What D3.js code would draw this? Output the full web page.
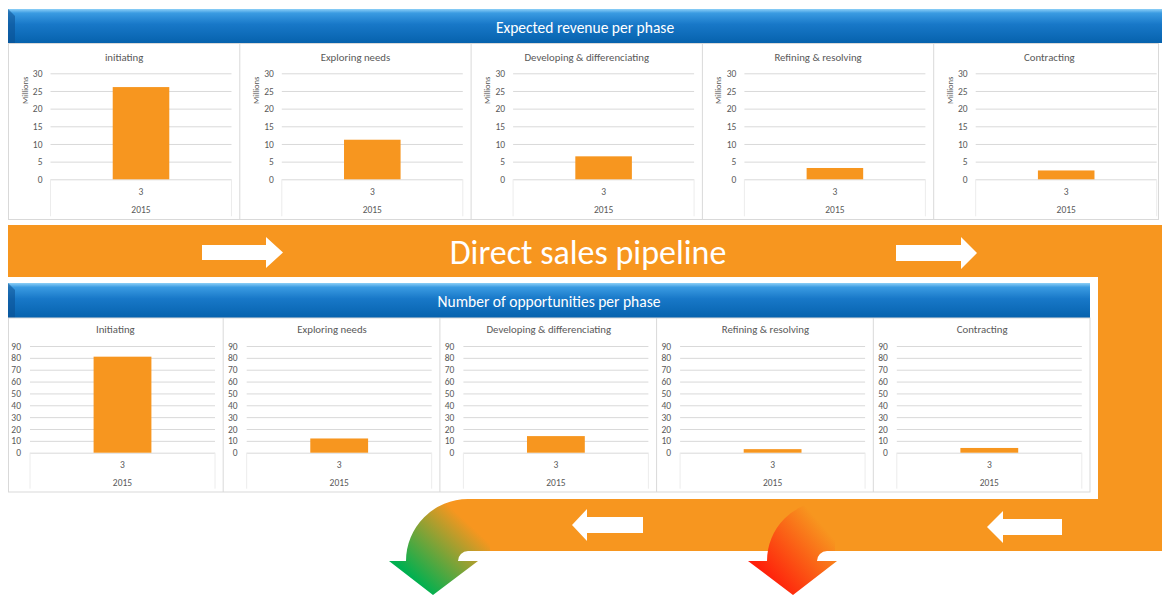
<!DOCTYPE html>
<html>
<head>
<meta charset="utf-8">
<script src="https://cdn.jsdelivr.net/npm/d3@7"></script>
<style>
  body { margin: 0; background: #fff; }
  svg { display: block; font-family: Carlito, Lato, "Open Sans", sans-serif; }
</style>
</head>
<body>
<div id="chart"></div>
<script>
// ---- data ----
const revenueTitles = ["initiating", "Exploring needs", "Developing & differenciating", "Refining & resolving", "Contracting"];
const oppTitles = ["Initiating", "Exploring needs", "Developing & differenciating", "Refining & resolving", "Contracting"];
const revenueValues = [26.1, 11.2, 6.5, 3.2, 2.5];   // millions
const oppValues = [81, 12, 14, 3, 4];
const revenueTicks = [0, 5, 10, 15, 20, 25, 30];
const oppTicks = [0, 10, 20, 30, 40, 50, 60, 70, 80, 90];
const categories = ["3"];
const yearLabel = "2015";

const W = 1162, H = 597;
const orange = "#f7961f";
const gridColor = "#d9d9d9";
const textColor = "#595959";

const svg = d3.select("#chart").append("svg")
  .attr("width", W)
  .attr("height", H);

const defs = svg.append("defs");

// blue header gradient
const blue = defs.append("linearGradient").attr("id", "blueGrad")
  .attr("x1", 0).attr("y1", 0).attr("x2", 0).attr("y2", 1);
blue.append("stop").attr("offset", "0%").attr("stop-color", "#8ccff7");
blue.append("stop").attr("offset", "12%").attr("stop-color", "#3a9be2");
blue.append("stop").attr("offset", "45%").attr("stop-color", "#1878c8");
blue.append("stop").attr("offset", "100%").attr("stop-color", "#0662ad");

// green u-turn gradient
const green = defs.append("linearGradient").attr("id", "greenGrad")
  .attr("gradientUnits", "userSpaceOnUse")
  .attr("x1", 492).attr("y1", 508).attr("x2", 420).attr("y2", 585);
green.append("stop").attr("offset", "0%").attr("stop-color", orange);
green.append("stop").attr("offset", "26%").attr("stop-color", orange);
green.append("stop").attr("offset", "100%").attr("stop-color", "#00b050");

// red u-turn gradient
const red = defs.append("linearGradient").attr("id", "redGrad")
  .attr("gradientUnits", "userSpaceOnUse")
  .attr("x1", 835).attr("y1", 540).attr("x2", 775).attr("y2", 592);
red.append("stop").attr("offset", "0%").attr("stop-color", orange);
red.append("stop").attr("offset", "100%").attr("stop-color", "#ff1a0a");

// ---- orange pipeline band ----
svg.append("rect").attr("x", 8).attr("y", 225).attr("width", W - 8).attr("height", 52).attr("fill", orange);
svg.append("rect").attr("x", 1098).attr("y", 225).attr("width", W - 1098).attr("height", 326).attr("fill", orange);
svg.append("rect").attr("x", 468).attr("y", 499).attr("width", W - 468).attr("height", 52).attr("fill", orange);

// left u-turn (green) arrow
svg.append("path")
  .attr("d", "M490,499 L468,499 A62,62 0 0 0 406,561 L389,561 L433,595 L478,561 L458,561 A10,10 0 0 1 468,551 L490,551 Z")
  .attr("fill", "url(#greenGrad)");

// right u-turn (red) arrow
svg.append("path")
  .attr("d", "M835,501 L827,501 A60,60 0 0 0 767,561 L748,561 L793,595 L837,561 L817,561 A10,10 0 0 1 827,551 L835,551 Z")
  .attr("fill", "url(#redGrad)");

svg.append("text")
  .attr("x", 588).attr("y", 252)
  .attr("text-anchor", "middle").attr("dominant-baseline", "central")
  .attr("fill", "#fff").attr("font-size", 34).attr("font-weight", 300)
  .text("Direct sales pipeline");

// white block arrows
function blockArrow(tail, base, tip, cy, shaftH, headH) {
  const s = shaftH / 2, h = headH / 2;
  return `M${tail},${cy - s} L${base},${cy - s} L${base},${cy - h} L${tip},${cy} L${base},${cy + h} L${base},${cy + s} L${tail},${cy + s} Z`;
}
svg.append("path").attr("d", blockArrow(202, 266, 283, 252.5, 15, 31)).attr("fill", "#fff");
svg.append("path").attr("d", blockArrow(896, 961, 977, 253, 16, 32)).attr("fill", "#fff");
svg.append("path").attr("d", blockArrow(643, 587, 572, 525, 16, 32)).attr("fill", "#fff");
svg.append("path").attr("d", blockArrow(1062, 1003, 987, 527, 16, 32)).attr("fill", "#fff");

// white block holding the lower charts
svg.append("rect").attr("x", 8).attr("y", 277).attr("width", 1090).attr("height", 222).attr("fill", "#fff");

// ---- headers ----
function header(x, y, w, h, label) {
  const g = svg.append("g");
  g.append("rect").attr("x", x).attr("y", y).attr("width", w).attr("height", h).attr("fill", "url(#blueGrad)");
  g.append("path")
    .attr("d", `M${x},${y} L${x + 7},${y + 7} L${x + 7},${y + h} L${x},${y + h} Z`)
    .attr("fill", "#0b4f90").attr("opacity", 0.55);
  g.append("text")
    .attr("x", x + w / 2).attr("y", y + h / 2 + 1)
    .attr("text-anchor", "middle").attr("dominant-baseline", "central")
    .attr("fill", "#fff").attr("font-size", 15.5)
    .text(label);
}
header(8, 9, W - 8, 34, "Expected revenue per phase");
header(8, 283, 1082, 35, "Number of opportunities per phase");

// ---- small bar chart panel ----
function drawPanel(o) {
  const g = svg.append("g");

  const y = d3.scaleLinear().domain([0, d3.max(o.ticks)]).range([o.y0, o.y1]);
  const x = d3.scaleBand().domain(categories).range([o.plotL, o.plotR])
    .paddingInner(0).paddingOuter(1.1);

  g.append("text")
    .attr("x", o.titleX).attr("y", o.titleY)
    .attr("text-anchor", "middle").attr("dominant-baseline", "central")
    .attr("fill", textColor).attr("font-size", 10.8)
    .text(o.title);

  const yAxis = d3.axisLeft(y).tickValues(o.ticks)
    .tickSize(-(o.plotR - o.plotL)).tickPadding(o.pad);
  const ax = g.append("g").attr("transform", `translate(${o.plotL},0)`).call(yAxis);
  ax.select(".domain").remove();
  ax.selectAll(".tick line").attr("stroke", gridColor).attr("stroke-width", 1);
  ax.selectAll(".tick text").attr("fill", textColor).attr("font-size", 9.5)
    .style("font-family", "Carlito, Lato, 'Open Sans', sans-serif");

  if (o.unit) {
    g.append("text")
      .attr("transform", `translate(${o.plotL - 26},${o.y1 + 17}) rotate(-90)`)
      .attr("text-anchor", "middle").attr("dominant-baseline", "central")
      .attr("fill", textColor).attr("font-size", 8.5)
      .text(o.unit);
  }

  g.selectAll("rect.bar").data([o.value]).join("rect")
    .attr("class", "bar")
    .attr("x", x(categories[0]))
    .attr("width", x.bandwidth())
    .attr("y", d => y(d))
    .attr("height", d => o.y0 - y(d))
    .attr("fill", orange);

  // multi-level category axis
  [o.plotL, o.plotR].forEach(px => {
    g.append("line").attr("x1", px).attr("x2", px)
      .attr("y1", o.y0).attr("y2", o.y0 + o.catH)
      .attr("stroke", "#ececec");
  });
  g.append("text")
    .attr("x", x(categories[0]) + x.bandwidth() / 2).attr("y", o.catY)
    .attr("text-anchor", "middle").attr("dominant-baseline", "central")
    .attr("fill", textColor).attr("font-size", 9.5)
    .text(categories[0]);
  g.append("text")
    .attr("x", (o.plotL + o.plotR) / 2).attr("y", o.yearY)
    .attr("text-anchor", "middle").attr("dominant-baseline", "central")
    .attr("fill", textColor).attr("font-size", 9.5)
    .text(yearLabel);
}

// top row: revenue
const topStep = 231.3;
svg.append("rect").attr("x", 8.5).attr("y", 43.5).attr("width", 1150).attr("height", 176)
  .attr("fill", "#fff").attr("stroke", gridColor);
revenueValues.forEach((v, i) => {
  const x0 = 8.5 + i * topStep;
  if (i > 0) svg.append("line").attr("x1", x0).attr("x2", x0).attr("y1", 43).attr("y2", 219.5)
    .attr("stroke", gridColor);
  drawPanel({
    title: revenueTitles[i], value: v, ticks: revenueTicks,
    plotL: x0 + 42, plotR: x0 + 223, y0: 179.3, y1: 73.3,
    titleX: x0 + topStep / 2, titleY: 57, pad: 8, unit: "Millions",
    catY: 192, yearY: 210, catH: 37
  });
});

// bottom row: opportunities
const botStep = 216.7;
svg.append("rect").attr("x", 8.5).attr("y", 318).attr("width", 1081.5).attr("height", 174)
  .attr("fill", "none").attr("stroke", gridColor);
oppValues.forEach((v, i) => {
  const x0 = 6 + i * botStep;
  if (i > 0) svg.append("line").attr("x1", x0 + 0.5).attr("x2", x0 + 0.5).attr("y1", 318).attr("y2", 492)
    .attr("stroke", gridColor);
  drawPanel({
    title: oppTitles[i], value: v, ticks: oppTicks,
    plotL: x0 + 24, plotR: x0 + 209, y0: 452.7, y1: 346,
    titleX: x0 + botStep / 2 + 1, titleY: 329, pad: 9, unit: null,
    catY: 465, yearY: 483, catH: 36
  });
});
</script>
</body>
</html>
